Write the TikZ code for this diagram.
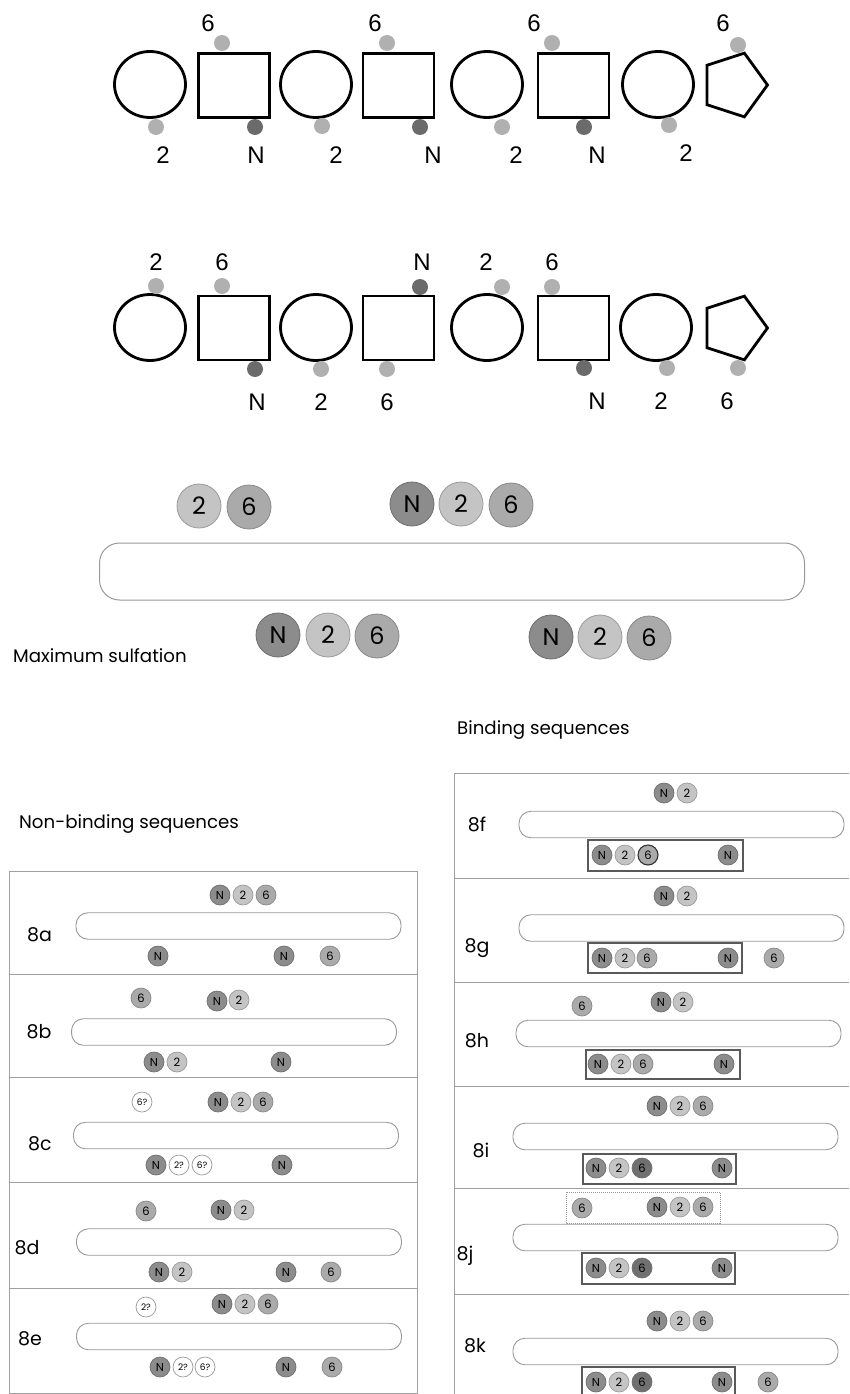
\documentclass[tikz,border=0pt]{standalone}
\usepackage{fontspec}
\usetikzlibrary{shapes.geometric}
\newfontfamily\lib{Liberation Sans}
\newfontfamily\geo{Poppins}
\definecolor{dotL}{HTML}{B0B0B0}
\definecolor{dotD}{HTML}{6B6B6B}
\definecolor{fN}{HTML}{8C8C8C}
\definecolor{f2}{HTML}{C4C4C4}
\definecolor{f6}{HTML}{AAAAAA}
\definecolor{f6d}{HTML}{707070}
\definecolor{bdN}{HTML}{6E6E6E}
\definecolor{bd2}{HTML}{9A9A9A}
\definecolor{bd6}{HTML}{888888}
\definecolor{pillc}{HTML}{999999}
\definecolor{grpc}{HTML}{5A5A5A}
\definecolor{panc}{HTML}{A0A0A0}
\begin{document}
\begin{tikzpicture}[x=1pt,y=-1pt,
  topshape/.style={draw=black,line width=2.8pt,inner sep=0pt},
  oval/.style={topshape,ellipse,minimum width=71pt,minimum height=66pt},
  sqbox/.style={topshape,rectangle,minimum width=71pt,minimum height=64pt},
  pent/.style={topshape,regular polygon,regular polygon sides=5,shape border rotate=-90,minimum size=67pt},
  dotl/.style={circle,fill=dotL,inner sep=0pt,minimum size=16pt},
  dotd/.style={circle,fill=dotD,inner sep=0pt,minimum size=16pt},
  lab/.style={font=\lib\fontsize{24}{24}\selectfont,anchor=base,inner sep=0pt},
  big/.style={circle,inner sep=0pt,minimum size=44pt,line width=0.8pt,font=\geo\fontsize{24}{24}\selectfont},
  bigN/.style={big,fill=fN,draw=bdN},
  bigtwo/.style={big,fill=f2,draw=bd2},
  bigsix/.style={big,fill=f6,draw=bd6},
  sm/.style={circle,inner sep=0pt,minimum size=20pt,line width=0.7pt,font=\geo\fontsize{11.5}{11.5}\selectfont},
  sN/.style={sm,fill=fN,draw=bdN},
  stwo/.style={sm,fill=f2,draw=bd2},
  ssix/.style={sm,fill=f6,draw=bd6},
  ssixd/.style={sm,fill=f6d,draw=bdN},
  ssixb/.style={sm,fill=f6,draw=black!80,line width=1.1pt},
  sq/.style={sm,fill=white,draw=bd2,font=\geo\fontsize{9}{9}\selectfont},
  pill/.style={draw=pillc,line width=0.9pt,rounded corners=12pt,inner sep=0pt,minimum width=325pt,minimum height=26.5pt},
  grp/.style={draw=grpc,line width=1.2pt},
  panel/.style={draw=panc,line width=1pt},
  plab/.style={font=\geo\fontsize{19}{19}\selectfont,anchor=base,inner sep=0pt},
  hdr/.style={font=\geo\fontsize{18.2}{18.2}\selectfont,anchor=west,inner sep=0pt}]
\clip (0,0) rectangle (849,1394);
\fill[white] (0,0) rectangle (849,1394);
% ---------------- Row 1 ----------------
\node[oval] (ac1) at (150,84.5) {};
\node[sqbox] (as1) at (234,85.5) {};
\node[oval] (ac2) at (316,84.5) {};
\node[sqbox] (as2) at (398.5,85.5) {};
\node[oval] (ac3) at (487,84.5) {};
\node[sqbox] (as3) at (573.5,85.5) {};
\node[oval] (ac4) at (658,84.5) {};
\node[pent] (ap) at (734,85) {};
\node[dotl] (ad1) at (222,43) {};
\node[dotl] (ad2) at (156,127) {};
\node[dotd] (ad3) at (255,127) {};
\node[dotl] (ad4) at (387,43) {};
\node[dotl] (ad5) at (322,126) {};
\node[dotd] (ad6) at (420,127) {};
\node[dotl] (ad7) at (552,43) {};
\node[dotl] (ad8) at (502,127) {};
\node[dotd] (ad9) at (584,127) {};
\node[dotl] (ad10) at (669,125) {};
\node[dotl] (ad11) at (738,45) {};
\node[lab] (al1) at (208,32) {6};
\node[lab] (al2) at (163,163) {2};
\node[lab] (al3) at (256,163) {N};
\node[lab] (al4) at (375,32) {6};
\node[lab] (al5) at (336,163) {2};
\node[lab] (al6) at (433,163) {N};
\node[lab] (al7) at (534,32) {6};
\node[lab] (al8) at (516,163) {2};
\node[lab] (al9) at (597,163) {N};
\node[lab] (al10) at (686,161) {2};
\node[lab] (al11) at (723,32) {6};
% ---------------- Row 2 ----------------
\node[oval] (bc1) at (150,327.5) {};
\node[sqbox] (bs1) at (234,328) {};
\node[oval] (bc2) at (316,327.5) {};
\node[sqbox] (bs2) at (398.5,328) {};
\node[oval] (bc3) at (487,327.5) {};
\node[sqbox] (bs3) at (573.5,328) {};
\node[oval] (bc4) at (656,327.5) {};
\node[pent] (bp) at (734,328) {};
\node[dotl] (bd1) at (156,286) {};
\node[dotl] (bd2) at (222,286) {};
\node[dotd] (bd3) at (255,369) {};
\node[dotl] (bd4) at (321,369) {};
\node[dotl] (bd5) at (387,369) {};
\node[dotd] (bd6) at (420,287) {};
\node[dotl] (bd7) at (502,287) {};
\node[dotl] (bd8) at (552,287) {};
\node[dotd] (bd9) at (584,368) {};
\node[dotl] (bd10) at (667,368) {};
\node[dotl] (bd11) at (738,368) {};
\node[lab] (bl1) at (156,270) {2};
\node[lab] (bl2) at (222,270) {6};
\node[lab] (bl3) at (422,270) {N};
\node[lab] (bl4) at (486,270) {2};
\node[lab] (bl5) at (552,270) {6};
\node[lab] (bl6) at (257,410) {N};
\node[lab] (bl7) at (321,410) {2};
\node[lab] (bl8) at (387,410) {6};
\node[lab] (bl9) at (597,409) {N};
\node[lab] (bl10) at (661,409) {2};
\node[lab] (bl11) at (727,409) {6};
% ---------------- Maximum sulfation ----------------
\node[draw=pillc,line width=1pt,rounded corners=20pt,minimum width=705pt,minimum height=57pt,inner sep=0pt] (chain) at (452,571.5) {};
\node[bigtwo] (m1) at (199,506) {2};
\node[bigsix] (m2) at (249,507) {6};
\node[bigN] (m3) at (412,504) {N};
\node[bigtwo] (m4) at (461,504) {2};
\node[bigsix] (m5) at (511,505) {6};
\node[bigN] (m6) at (278,635) {N};
\node[bigtwo] (m7) at (328,635) {2};
\node[bigsix] (m8) at (377,636) {6};
\node[bigN] (m9) at (551,637) {N};
\node[bigtwo] (m10) at (600,637) {2};
\node[bigsix] (m11) at (649,638) {6};
\node[hdr] (maxs) at (13,656) {Maximum sulfation};
\node[hdr] (bind) at (457,730) {Binding sequences};
\node[hdr] (nonb) at (19,824) {Non-binding sequences};
% ---------------- Left panel ----------------
\draw[panel] (9.5,871) rectangle (417,1393);
\draw[panel] (9.5,974) -- (417,974);
\draw[panel] (9.5,1077) -- (417,1077);
\draw[panel] (9.5,1182) -- (417,1182);
\draw[panel] (9.5,1288) -- (417,1288);
% 8a
\node[plab] (la) at (39.5,941) {8a};
\node[pill] (pa) at (238.5,926) {};
\node[sN] (a1) at (220,895) {N};
\node[stwo] (a2) at (243,895) {2};
\node[ssix] (a3) at (266,895) {6};
\node[sN] (a4) at (158,956) {N};
\node[sN] (a5) at (284,956) {N};
\node[ssix] (a6) at (330,956) {6};
% 8b
\node[plab] (lb) at (39,1038) {8b};
\node[pill] (pb) at (234,1032) {};
\node[ssix] (b1) at (141,998) {6};
\node[sN] (b2) at (217,1001) {N};
\node[stwo] (b3) at (239,1000) {2};
\node[sN] (b4) at (154,1062) {N};
\node[stwo] (b5) at (177,1062) {2};
\node[sN] (b6) at (281,1062) {N};
% 8c
\node[plab] (lc) at (40,1150) {8c};
\node[pill] (pc) at (236,1135.5) {};
\node[sq] (c1) at (142,1102) {6?};
\node[sN] (c2) at (218,1102) {N};
\node[stwo] (c3) at (241,1102) {2};
\node[ssix] (c4) at (263,1102) {6};
\node[sN] (c5) at (156,1165) {N};
\node[sq] (c6) at (179,1165) {2?};
\node[sq] (c7) at (202,1165) {6?};
\node[sN] (c8) at (282,1165) {N};
% 8d
\node[plab] (ld) at (27,1254) {8d};
\node[pill] (pd) at (239,1242) {};
\node[ssix] (d1) at (146,1211) {6};
\node[sN] (d2) at (221,1210) {N};
\node[stwo] (d3) at (244,1210) {2};
\node[sN] (d4) at (159,1272) {N};
\node[stwo] (d5) at (182,1272) {2};
\node[sN] (d6) at (286,1272) {N};
\node[ssix] (d7) at (331,1272) {6};
% 8e
\node[plab] (le) at (30,1345) {8e};
\node[pill] (pe) at (239,1336.5) {};
\node[sq] (e1) at (146,1307) {2?};
\node[sN] (e2) at (222,1304) {N};
\node[stwo] (e3) at (245,1304) {2};
\node[ssix] (e4) at (268,1304) {6};
\node[sN] (e5) at (160,1367) {N};
\node[sq] (e6) at (183,1367) {2?};
\node[sq] (e7) at (205,1367) {6?};
\node[sN] (e8) at (286,1367) {N};
\node[ssix] (e9) at (332,1367) {6};
% ---------------- Right panel ----------------
\draw[panel] (454,1400) -- (454,773) -- (849,773);
\draw[panel] (454,878) -- (849,878);
\draw[panel] (454,982) -- (849,982);
\draw[panel] (454,1086) -- (849,1086);
\draw[panel] (454,1188) -- (849,1188);
\draw[panel] (454,1294) -- (849,1294);
% 8f
\node[plab] (lf) at (477,831) {8f};
\node[pill] (pf) at (681.5,824.5) {};
\node[sN] (f1) at (664,793) {N};
\node[stwo] (f2) at (687,793) {2};
\draw[grp] (588,840) rectangle (743,871);
\node[sN] (f3) at (602,855) {N};
\node[stwo] (f4) at (625,855) {2};
\node[ssixb] (f5) at (648,855) {6};
\node[sN] (f6) at (728,855) {N};
% 8g
\node[plab] (lg) at (477,952) {8g};
\node[pill] (pg) at (681.5,928) {};
\node[sN] (g1) at (664,896) {N};
\node[stwo] (g2) at (687,896) {2};
\draw[grp] (588,943) rectangle (742,973);
\node[sN] (g3) at (602,958) {N};
\node[stwo] (g4) at (625,958) {2};
\node[ssix] (g5) at (647,958) {6};
\node[sN] (g6) at (728,958) {N};
\node[ssix] (g7) at (774,958) {6};
% 8h
\node[plab] (lh) at (477,1047) {8h};
\node[pill] (ph) at (678.5,1033.5) {};
\node[ssix] (h1) at (582,1006) {6};
\node[sN] (h2) at (661,1002) {N};
\node[stwo] (h3) at (683,1002) {2};
\draw[grp] (586,1050) rectangle (740,1079);
\node[sN] (h4) at (598,1064) {N};
\node[stwo] (h5) at (621,1064) {2};
\node[ssix] (h6) at (643,1064) {6};
\node[sN] (h7) at (724,1064) {N};
% 8i
\node[plab] (li) at (481,1157) {8i};
\node[pill] (pi) at (675.5,1136.5) {};
\node[sN] (i1) at (657,1106) {N};
\node[stwo] (i2) at (680,1106) {2};
\node[ssix] (i3) at (703,1106) {6};
\draw[grp] (583,1154) rectangle (736,1184);
\node[sN] (i4) at (596,1168) {N};
\node[stwo] (i5) at (619,1168) {2};
\node[ssixd] (i6) at (642,1168) {6};
\node[sN] (i7) at (722,1168) {N};
% 8j
\node[plab] (lj) at (465,1260) {8j};
\node[pill] (pj) at (675.5,1237.5) {};
\draw[draw=pillc,line width=1pt,densely dotted] (566,1192) rectangle (720,1223);
\node[ssix] (j1) at (582,1208) {6};
\node[sN] (j2) at (657,1207) {N};
\node[stwo] (j3) at (680,1207) {2};
\node[ssix] (j4) at (703,1207) {6};
\draw[grp] (582,1253) rectangle (735,1284);
\node[sN] (j5) at (596,1268) {N};
\node[stwo] (j6) at (619,1268) {2};
\node[ssixd] (j7) at (642,1268) {6};
\node[sN] (j8) at (722,1268) {N};
% 8k
\node[plab] (lk) at (475,1352) {8k};
\node[pill] (pk) at (675.5,1351.5) {};
\node[sN] (k1) at (657,1321) {N};
\node[stwo] (k2) at (680,1321) {2};
\node[ssix] (k3) at (703,1321) {6};
\draw[grp] (582,1367) rectangle (735,1398);
\node[sN] (k4) at (596,1382) {N};
\node[stwo] (k5) at (619,1382) {2};
\node[ssixd] (k6) at (642,1382) {6};
\node[sN] (k7) at (722,1382) {N};
\node[ssix] (k8) at (768,1382) {6};
\end{tikzpicture}
\end{document}
